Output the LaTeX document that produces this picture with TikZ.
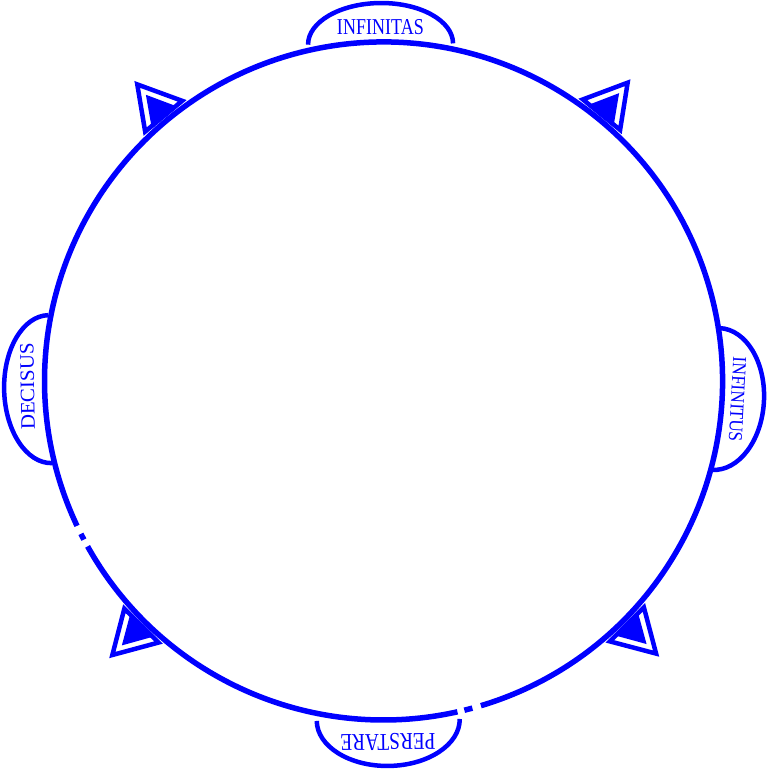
\documentclass[tikz,border=0pt]{standalone}
\usepackage{fontspec}
\setmainfont{Liberation Serif}
\usetikzlibrary{calc}
\tikzstyle{ringline}=[draw=blue, line width=0.055cm]
\tikzstyle{chipline}=[draw=blue, line width=0.045cm]
\tikzstyle{chiptext}=[text=blue, inner sep=0pt]
\tikzstyle{markline}=[draw=blue, line width=0.045cm, line join=miter]
\tikzstyle{markfill}=[fill=blue]
% #1 angle on the ring
\newcommand{\ringmark}[1]{
    \draw[markline] (#1-4:3.45) -- (#1:3.855) -- (#1+4:3.45) -- cycle;
    \fill[markfill] (#1-2.7:3.44) -- (#1:3.72) -- (#1+2.7:3.44) -- cycle;
}
% #1 angle, #2 radius, #3 half width, #4 height
\newcommand{\ringchip}[4]{
    \begin{scope}[shift={(#1:#2)}, rotate=#1-90]
        \draw[chipline] (#3,0) arc[start angle=0, end angle=180,
        x radius=#3, y radius=#4];
    \end{scope}
}

\begin{document}
\begin{tikzpicture}
    \useasboundingbox (0,0) rectangle (7.69,7.71);
    \begin{scope}[shift={(3.835,3.90)}]
    % ring with two broken places
    \draw[ringline] (286.7:3.39) arc[start angle=286.7, end angle=565.3, radius=3.39];
    \draw[ringline] (206.8:3.39) arc[start angle=206.8, end angle=207.9, radius=3.39];
    \draw[ringline] (209.2:3.39) arc[start angle=209.2, end angle=282.6, radius=3.39];
    \draw[ringline] (283.8:3.39) arc[start angle=283.8, end angle=285.2, radius=3.39];
    
    \ringmark{50.7}
    \ringmark{129.7}
    \ringmark{225.3}
    \ringmark{315}
    
    \ringchip{90.5}{3.37}{0.725}{0.41}
    \ringchip{-3.1}{3.33}{0.71}{0.48}
    \ringchip{181.4}{3.335}{0.74}{0.46}
    \ringchip{270.8}{3.39}{0.715}{0.46}
    
    \node[chiptext, rotate=0.5] (infinitas) at (90.5:3.54)
    {\resizebox{0.87cm}{0.15cm}{INFINITAS}};
    \node[chiptext, rotate=-93] (infinitus) at (-3.0:3.545)
    {\resizebox{0.85cm}{0.13cm}{INFINITUS}};
    \node[chiptext, rotate=90.9] (decisus) at (180.9:3.56)
    {\resizebox{0.87cm}{0.135cm}{DECISUS}};
    \node[chiptext, rotate=180.7] (perstare) at (270.7:3.61)
    {\resizebox{0.95cm}{0.16cm}{PERSTARE}};
    \end{scope}
\end{tikzpicture}
\end{document}
